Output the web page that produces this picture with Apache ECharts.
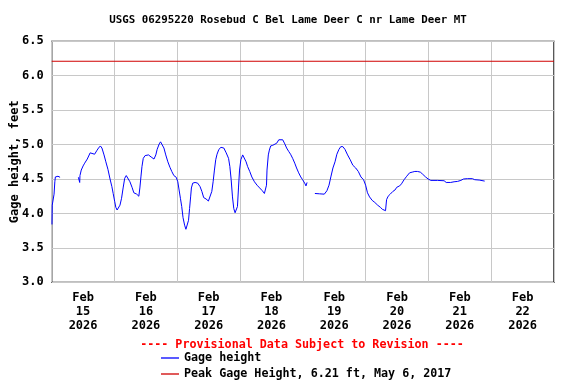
<!DOCTYPE html>
<html><head><meta charset="utf-8">
<script src="https://cdn.jsdelivr.net/npm/echarts@6/dist/echarts.min.js"></script>
<style>html,body{margin:0;padding:0;background:#fff}#c{width:576px;height:384px}</style>
</head><body><div id="c"></div>
<script>
// hours since 2026-02-15 00:00
const hours = [0.1,0.2,0.9,1.2,1.4,1.9,2.4,3.2,3.4,null,
10.2,10.7,10.8,11.3,12.0,12.6,13.6,14.7,15.4,16.4,17.2,17.9,18.6,19.2,20.0,20.7,21.5,22.3,23.0,23.5,24.1,24.5,25.0,25.6,26.1,26.7,27.3,27.9,28.5,29.1,29.9,30.7,31.4,32.5,33.3,33.7,34.1,34.5,35.0,35.7,37.0,38.0,39.1,39.8,40.3,41.1,41.6,42.2,42.9,43.6,44.4,45.2,45.9,46.7,47.6,48.2,48.7,49.2,49.7,50.2,50.8,51.3,51.8,52.3,52.7,53.1,53.4,53.9,54.8,55.8,56.7,57.4,58.1,59.0,59.9,60.5,61.2,61.7,62.2,62.7,63.2,63.9,64.7,65.8,66.7,67.6,68.1,68.6,69.1,69.6,70.1,70.6,71.0,71.4,71.8,72.3,73.0,73.7,74.3,74.9,75.7,76.5,77.5,78.5,79.5,80.5,81.3,82.1,82.3,82.8,83.2,83.7,84.5,85.2,86.0,86.8,87.5,88.3,89.1,89.8,90.6,91.3,92.1,92.9,93.6,94.4,95.2,95.9,96.7,97.2,97.6,null,
100.6,102.4,104.2,105.2,106.0,106.7,107.5,108.3,109.0,109.8,110.5,111.3,112.1,113.1,114.1,115.1,116.2,117.2,118.2,119.2,120.0,120.7,121.5,122.5,123.5,124.6,125.6,126.4,127.1,127.6,128.0,128.6,129.4,130.4,131.2,131.9,133.0,133.7,134.7,135.7,136.8,137.8,138.8,139.8,140.9,141.8,142.9,143.9,144.9,147.5,150.0,150.8,152.5,153.8,155.1,156.4,157.4,158.9,160.8,161.7,163.4,164.0,165.5];
const gage = [3.84,4.12,4.28,4.46,4.53,4.54,4.54,4.525,4.525,null,
4.525,4.45,4.55,4.63,4.69,4.73,4.79,4.88,4.87,4.86,4.91,4.95,4.98,4.95,4.85,4.75,4.64,4.50,4.39,4.29,4.17,4.09,4.05,4.06,4.12,4.22,4.37,4.51,4.55,4.53,4.46,4.38,4.30,4.28,4.25,4.37,4.53,4.68,4.80,4.84,4.85,4.82,4.79,4.85,4.93,5.01,5.04,5.03,4.95,4.85,4.75,4.67,4.61,4.55,4.525,4.46,4.34,4.22,4.10,3.94,3.83,3.77,3.77,3.90,4.07,4.24,4.37,4.44,4.45,4.44,4.39,4.32,4.23,4.21,4.18,4.20,4.32,4.46,4.63,4.78,4.86,4.93,4.96,4.95,4.88,4.80,4.68,4.49,4.24,4.07,4.01,3.99,4.10,4.37,4.63,4.78,4.85,4.83,4.75,4.68,4.61,4.53,4.46,4.41,4.37,4.33,4.29,4.41,4.63,4.85,4.92,4.98,4.99,4.98,5.02,5.07,5.09,5.07,5.01,4.95,4.90,4.86,4.80,4.73,4.66,4.59,4.53,4.49,4.44,4.40,4.45,null,
4.29,4.285,4.28,4.33,4.41,4.53,4.66,4.75,4.86,4.93,4.97,4.97,4.93,4.85,4.78,4.70,4.66,4.61,4.53,4.49,4.41,4.30,4.24,4.19,4.16,4.12,4.09,4.06,4.06,4.04,4.20,4.25,4.28,4.32,4.34,4.38,4.40,4.43,4.49,4.54,4.59,4.60,4.61,4.61,4.60,4.57,4.53,4.50,4.48,4.48,4.475,4.45,4.45,4.46,4.465,4.48,4.50,4.505,4.505,4.49,4.485,4.47,4.47];
const peakValue = 6.21;
const dayLabelHours = [12,36,60,84,108,132,156,180];
const dayLabels = ['15','16','17','18','19','20','21','22'];
const titleText = 'USGS 06295220 Rosebud C Bel Lame Deer C nr Lame Deer MT';
const provisionalText = '---- Provisional Data Subject to Revision ----';
const seriesNames = ['Gage height', 'Peak Gage Height, 6.21 ft, May 6, 2017'];

const F = 'DejaVu Sans Mono';
const chart = echarts.init(document.getElementById('c'), null, {renderer:'canvas'});
const lineData = hours.map((h,i)=> h===null ? [null,null] : [h, gage[i]]);
chart.setOption({
  animation:false,
  backgroundColor:'#fff',
  title:[
    {text:titleText, left:'center', top:15, padding:0, textStyle:{fontFamily:F, fontSize:10.8, fontWeight:'bold', color:'#000'}},
    {text:provisionalText, left:302, textAlign:'center', top:339, padding:0, textStyle:{fontFamily:F, fontSize:11.7, fontWeight:'bold', color:'#ff0000'}}
  ],
  grid:{left:51.7, right:22, top:41.3, bottom:101.7, outerBoundsMode:'none', containLabel:false, show:true, borderColor:'#000', borderWidth:1.3, backgroundColor:'transparent'},
  legend:{orient:'vertical', left:161, top:352, padding:0, itemWidth:18, itemHeight:1.3, itemGap:4, icon:'rect',
    textStyle:{fontFamily:F, fontSize:11.7, fontWeight:'bold', color:'#000'},
    data:seriesNames},
  xAxis:{type:'value', min:0, max:192, interval:24,
    axisLine:{show:false}, axisTick:{show:false},
    splitLine:{show:true, lineStyle:{color:'#c8c8c8', width:1}},
    axisLabel:{customValues:dayLabelHours, margin:9, fontFamily:F, fontSize:12, fontWeight:'bold', color:'#000', lineHeight:14,
      formatter:(v)=>{const i=dayLabelHours.indexOf(v); return i<0?'':'Feb\n'+dayLabels[i]+'\n2026';}}
  },
  yAxis:{type:'value', min:3, max:6.5, interval:0.5,
    name:'Gage height, feet', nameLocation:'middle', nameRotate:90, nameGap:31, nameMoveOverlap:false,
    nameTextStyle:{fontFamily:F, fontSize:12, fontWeight:'bold', color:'#000'},
    axisLine:{show:false}, axisTick:{show:false},
    splitLine:{show:true, lineStyle:{color:'#c8c8c8', width:1}},
    axisLabel:{margin:8, fontFamily:F, fontSize:12, fontWeight:'bold', color:'#000', formatter:(v)=>v.toFixed(1)}
  },
  series:[
    {name:seriesNames[0], type:'line', data:lineData, symbol:'none', connectNulls:false, color:'#0000ff', lineStyle:{color:'#0000ff', width:1}},
    {name:seriesNames[1], type:'line', data:[[0,peakValue],[192,peakValue]], symbol:'none', color:'#d00000', lineStyle:{color:'#d00000', width:1.2}}
  ]
});
</script></body></html>
